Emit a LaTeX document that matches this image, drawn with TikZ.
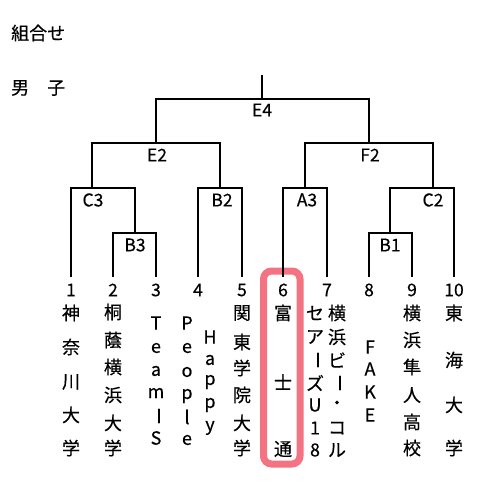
\documentclass[tikz,border=0pt]{standalone}
\usepackage{fontspec}
\setmainfont{Noto Sans CJK JP}[FakeBold=0.4]
\tikzset{
  br/.style={line width=2pt, black},
  lab/.style={inner sep=0pt, font=\fontsize{17.5}{17.5}\selectfont},
  ch/.style={inner sep=0pt, font=\fontsize{18}{18}\selectfont},
  vbar/.style={inner sep=0pt, font=\fontsize{18}{18}\selectfont, rotate=-90},
  hl/.style={line width=7pt, color={rgb,255:red,240;green,80;blue,100}, opacity=0.8, rounded corners=8pt}
}
\newcommand{\vcol}[3]{% name prefix, x, list of y/char
  \foreach \yy/\cc [count=\k] in {#3} {\node[ch] (#1-\k) at (#2,\yy) {\cc};}}
\begin{document}
\begin{tikzpicture}[x=1pt,y=-1pt]
\useasboundingbox (0,0) rectangle (500,500);
% highlight
\draw[hl] (263.5,271) rectangle (300,464);
% headings
\node[ch, anchor=west] (title) at (11,33) {組合せ};
\node[ch, anchor=west] (sex) at (11,88) {男\hspace{1em}子};
% junction coordinates
\coordinate (top) at (262,75);
\coordinate (E4) at (262,99);
\coordinate (E2) at (156,143);
\coordinate (F2) at (369,143);
\coordinate (C3) at (92,188);
\coordinate (B2) at (220,188);
\coordinate (A3) at (305,188);
\coordinate (C2) at (433,188);
\coordinate (B3) at (135,233);
\coordinate (B1) at (390,233);
\foreach \i/\x in {1/71,2/113,3/156,4/198,5/242,6/283,7/327,8/369,9/412,10/454}
  \coordinate (l\i) at (\x,277);
% brackets
\draw[br] (top) -- (E4);
\draw[br] (E2) |- (E4) -| (F2);
\draw[br] (C3) |- (E2) -| (B2);
\draw[br] (A3) |- (F2) -| (C2);
\draw[br] (l1) |- (C3) -| (B3);
\draw[br] (l2) |- (B3) -| (l3);
\draw[br] (l4) |- (B2) -| (l5);
\draw[br] (l6) |- (A3) -| (l7);
\draw[br] (B1) |- (C2) -| (l10);
\draw[br] (l8) |- (B1) -| (l9);
% match labels
\node[lab] (tE4) at (262,110) {E4};
\node[lab] (tE2) at (157,155) {E2};
\node[lab] (tF2) at (370,155) {F2};
\node[lab] (tC3) at (93,200) {C3};
\node[lab] (tB2) at (222,200) {B2};
\node[lab] (tA3) at (307,200) {A3};
\node[lab] (tC2) at (433,200) {C2};
\node[lab] (tB3) at (135,245) {B3};
\node[lab] (tB1) at (390,245) {B1};
% numbers
\foreach \i/\x in {1/71,2/113,3/156,4/198,5/242,6/283,7/327,8/369,9/412,10/454}
  \node[lab] (n\i) at (\x,290) {\i};
% team names
\vcol{t1}{71}{313/神,347/奈,382/川,415/大,448/学}
\vcol{t2}{113}{312/桐,340/蔭,367/横,395/浜,423/大,448/学}
\vcol{t3}{156}{323/T,348/e,371/a,393/m,438/S}
\node[vbar] (t3-bar) at (156,416) {ー};
\vcol{t4a}{187}{323/P,348/e,372/o,396/p,417/l,440/e}
\vcol{t4b}{210}{337/H,360/a,382/p,405/p,428/y}
\vcol{t5}{242}{313/関,342/東,368/学,395/院,423/大,448/学}
\vcol{t6}{283}{313/富,382/士,449/通}
\vcol{t7a}{337}{313/横,337/浜,360/ビ,405/・,428/コ,450/ル}
\node[vbar] (t7a-bar) at (337,383) {ー};
\vcol{t7b}{315}{313/セ,337/ア,383/ズ,405/U,428/1,450/8}
\node[vbar] (t7b-bar) at (315,360) {ー};
\vcol{t8}{370}{347/F,369/A,392/K,415/E}
\vcol{t9}{412}{313/横,340/浜,367/隼,395/人,422/高,448/校}
\vcol{t10}{454}{313/東,360/海,405/大,448/学}
\end{tikzpicture}
\end{document}
